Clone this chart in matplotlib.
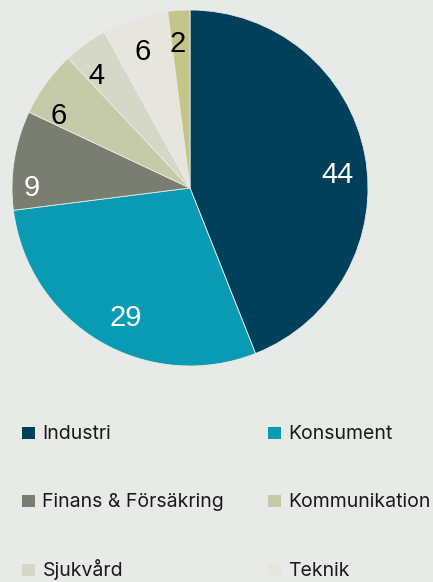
import matplotlib
matplotlib.use("Agg")
import matplotlib.pyplot as plt
import matplotlib.transforms as mtransforms
from matplotlib.patches import Rectangle

# sector split in percent, clockwise from 12 o'clock
sectors = ["Industri", "Konsument", "Finans & Försäkring", "Kommunikation",
           "Sjukvård", "Teknik", "Övrigt"]
shares = [44, 29, 9, 6, 4, 6, 2]
colors = ["#00405a", "#0a9bb4", "#797e70", "#c5cba9", "#d5d8c6", "#e6e6df", "#c5c48a"]
label_colors = ["white", "white", "white", "black", "black", "black", "black"]

BG = "#e8eae7"
W, H = 433, 582

# the source nudges some labels away from the slice mid-angle (px, y up)
label_nudge = [(4, -14), (10, -4), (-14, -23), (-13, -14), (-8, -6), (-2, -3), (-3, -2)]


def main():
    fig = plt.figure(figsize=(W / 100, H / 100), dpi=100, facecolor=BG)
    # pie centre ~ (190, 188) px, radius ~ 178 px
    ax = fig.add_axes([12 / W, 1 - 366 / H, 356 / W, 356 / H])
    ax.set_facecolor(BG)

    wedges, texts = ax.pie(shares, colors=colors, startangle=90, counterclock=False,
                           labels=[str(v) for v in shares], labeldistance=0.82,
                           wedgeprops=dict(edgecolor=BG, linewidth=0.6),
                           textprops=dict(fontsize=21, family="Liberation Sans"))
    for t, c, (dx, dy) in zip(texts, label_colors, label_nudge):
        t.set_color(c)
        t.set_ha("center")
        t.set_va("center")
        t.set_transform(ax.transData + mtransforms.ScaledTranslation(
            dx / 100, dy / 100, fig.dpi_scale_trans))
    ax.set_xlim(-1, 1)
    ax.set_ylim(-1, 1)
    ax.set_aspect("equal")
    ax.axis("off")

    # legend: two columns, last category falls below the visible area
    col_x = [22, 268]
    row_base = [439, 507, 576]
    for i, name in enumerate(sectors[:6]):
        x = col_x[i % 2]
        y = row_base[i // 2]
        fig.patches.append(Rectangle((x / W, 1 - y / H), 13 / W, 12 / H,
                                     transform=fig.transFigure, facecolor=colors[i],
                                     edgecolor="none"))
        fig.text((x + 20.5) / W, 1 - y / H, name, fontsize=14, family="Inter",
                 color="#1a1a1a", va="baseline", ha="left")

    fig.savefig("out.png", dpi=100, facecolor=BG)


if __name__ == '__main__':
    main()
